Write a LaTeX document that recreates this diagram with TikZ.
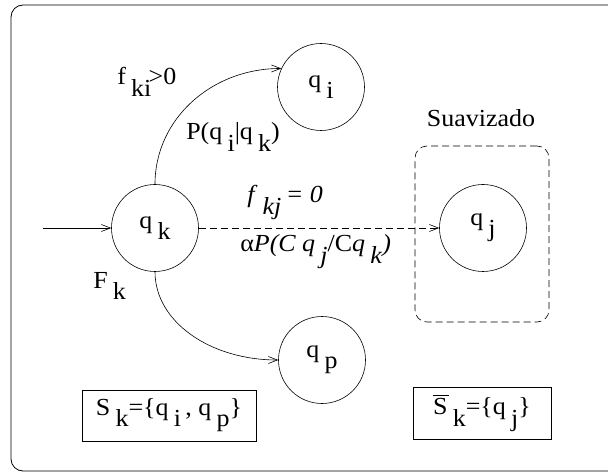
\documentclass[tikz,border=0pt]{standalone}
\usepackage{fontspec}
\setmainfont{Liberation Serif}
\usepackage{graphicx}
\usetikzlibrary{arrows.meta}
\newcommand\wx[1]{\scalebox{1.06}[1]{#1}}
\newcommand\sbx[1]{\hspace{0.2em}\raisebox{-0.45em}{#1}}
\newcommand\lblfont{\fontsize{24.5}{28}\selectfont}
\begin{document}
\begin{tikzpicture}[x=1pt,y=-1pt,line width=0.6pt,
  state/.style={circle,draw,minimum size=87pt,inner sep=0pt,font=\lblfont},
  arr/.style={-{Straight Barb[length=9pt,width=7pt]}},
  dsh/.style={dash pattern=on 7pt off 4pt},
  lbl/.style={font=\lblfont,inner sep=0pt,anchor=base west},
  setbox/.style={draw,font=\lblfont,inner sep=0pt}]
\useasboundingbox (0,0) rectangle (608,473);
\draw[line width=0.8pt,rounded corners=12pt] (612,5) -- (11,5) -- (11,471) -- (612,471);

\node[state] (qk) at (155,228) {\wx{q\sbx{k}}};
\node[state] (qi) at (321,87) {\wx{q\sbx{i}}};
\node[state] (qp) at (322,360) {\wx{q\sbx{p}}};
\node[state] (qj) at (483,228) {\wx{q\sbx{j}}};
\coordinate (in) at (43,228);

\node[draw,dsh,rounded corners=12pt,minimum width=134pt,minimum height=176pt,inner sep=0pt] (smooth) at (482,234) {};
\node[font=\lblfont,inner sep=0pt] (suav) at (481,118) {\wx{Suavizado}};

\draw[arr] (in) -- (qk);
\draw[arr] (qk.north) .. controls +(0,-65) and +(-70,0) .. (qi.155);
\draw[arr] (qk.south) .. controls +(0,50) and +(-68,0) .. (qp.west);
\draw[arr,dsh] (qk) -- (qj);

\node[lbl] (fki) at (117,85) {\wx{f\sbx{ki}\hspace{-0.1em}>0}};
\node[lbl] (pik) at (186,140) {\wx{P(q\sbx{i}|q\sbx{k})}};
\node[lbl] (fkj) at (247,203) {\wx{\textit{f}\sbx{\textit{kj}}\,\textit{= 0}}};
\node[lbl] (apc) at (240,252) {\wx{α\textit{P}\textit{(C q}\sbx{\textit{j}}/C\textit{q}\sbx{\textit{k}}\textit{)}}};
\node[lbl] (fk) at (93,288) {\wx{F\sbx{k}}};

\node[setbox,minimum width=174pt,minimum height=51pt] (sk) at (169,415.5) {\wx{S\sbx{k}=\{q\sbx{i}\,, q\sbx{p}\}}};
\node[setbox,minimum width=138pt,minimum height=52pt] (skb) at (482,413) {\wx{\rlap{\rule[0.8em]{0.62em}{0.6pt}}S\sbx{k}=\{q\sbx{j}\}}};
\end{tikzpicture}
\end{document}
